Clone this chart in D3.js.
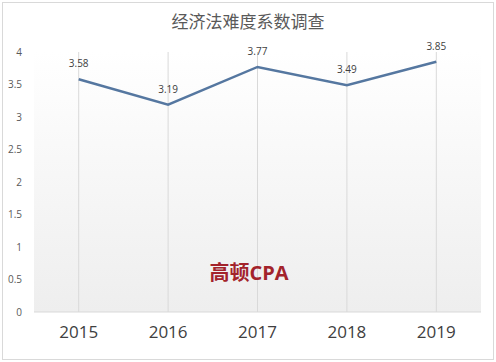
<!DOCTYPE html>
<html>
<head>
  <meta charset="UTF-8">
  <script src="https://d3js.org/d3.v7.min.js"></script>
  <style>
    body { margin: 0; background: #fff; }
    text { font-family: "Open Sans", "Noto Sans CJK SC", sans-serif; }
  </style>
</head>
<body>
  <svg id="chart" width="496" height="362"></svg>
  <script>
    // data
    const years = ["2015", "2016", "2017", "2018", "2019"];
    const difficulty = [3.58, 3.19, 3.77, 3.49, 3.85];
    const yTicks = [0, 0.5, 1, 1.5, 2, 2.5, 3, 3.5, 4];

    const svg = d3.select("#chart");
    const margin = { top: 52, right: 15, bottom: 50, left: 34 };
    const width = 496 - margin.left - margin.right;
    const height = 362 - margin.top - margin.bottom;

    // outer frame
    svg.append("rect")
      .attr("x", 2.5).attr("y", 2.5)
      .attr("width", 491).attr("height", 357)
      .attr("fill", "#fff")
      .attr("stroke", "#d9d9d9");

    // background gradient of plot area
    const defs = svg.append("defs");
    const grad = defs.append("linearGradient")
      .attr("id", "bg").attr("x1", 0).attr("y1", 0).attr("x2", 0).attr("y2", 1);
    grad.append("stop").attr("offset", "0%").attr("stop-color", "#ffffff");
    grad.append("stop").attr("offset", "100%").attr("stop-color", "#eeeeee");

    const g = svg.append("g").attr("transform", `translate(${margin.left},${margin.top})`);

    g.append("rect")
      .attr("x", 0).attr("y", 0)
      .attr("width", width).attr("height", height)
      .attr("fill", "url(#bg)");

    const x = d3.scaleBand().domain(years).range([0, width]);
    const y = d3.scaleLinear().domain([0, 4]).range([height, 0]);

    // vertical grid lines at categories
    g.append("g")
      .selectAll("line")
      .data(years)
      .join("line")
      .attr("x1", d => x(d) + x.bandwidth() / 2)
      .attr("x2", d => x(d) + x.bandwidth() / 2)
      .attr("y1", 0).attr("y2", height)
      .attr("stroke", "#d9d9d9").attr("stroke-width", 1);

    // x axis line
    g.append("line")
      .attr("x1", 0).attr("x2", width)
      .attr("y1", height).attr("y2", height)
      .attr("stroke", "#d9d9d9");

    // y axis labels
    const yAxis = d3.axisLeft(y).tickValues(yTicks).tickSize(0).tickPadding(12).tickFormat(d3.format("~g"));
    const ya = g.append("g").call(yAxis);
    ya.select(".domain").remove();
    ya.selectAll("text").attr("fill", "#595959").attr("font-size", 10);

    // x axis labels
    const xAxis = d3.axisBottom(x).tickSize(0).tickPadding(14);
    const xa = g.append("g").attr("transform", `translate(0,${height})`).call(xAxis);
    xa.select(".domain").remove();
    xa.selectAll("text").attr("fill", "#404040").attr("font-size", 17);

    // line
    const line = d3.line()
      .x((d, i) => x(years[i]) + x.bandwidth() / 2)
      .y(d => y(d));
    g.append("path")
      .datum(difficulty)
      .attr("d", line)
      .attr("fill", "none")
      .attr("stroke", "#5577a0")
      .attr("stroke-width", 2.5);

    // data labels
    g.append("g")
      .selectAll("text")
      .data(difficulty)
      .join("text")
      .attr("x", (d, i) => x(years[i]) + x.bandwidth() / 2)
      .attr("y", d => y(d) - 12)
      .attr("text-anchor", "middle")
      .attr("fill", "#404040")
      .attr("font-size", 10)
      .text(d => d.toFixed(2));

    // title
    svg.append("text")
      .attr("x", 248).attr("y", 28)
      .attr("text-anchor", "middle")
      .attr("fill", "#595959")
      .attr("font-size", 17)
      .text("经济法难度系数调查");

    // watermark
    svg.append("text")
      .attr("x", 249).attr("y", 280)
      .attr("text-anchor", "middle")
      .attr("fill", "#a3232b")
      .attr("font-size", 20)
      .attr("font-weight", "bold")
      .attr("font-family", "'Noto Sans CJK SC', sans-serif")
      .text("高顿CPA");
  </script>
</body>
</html>
